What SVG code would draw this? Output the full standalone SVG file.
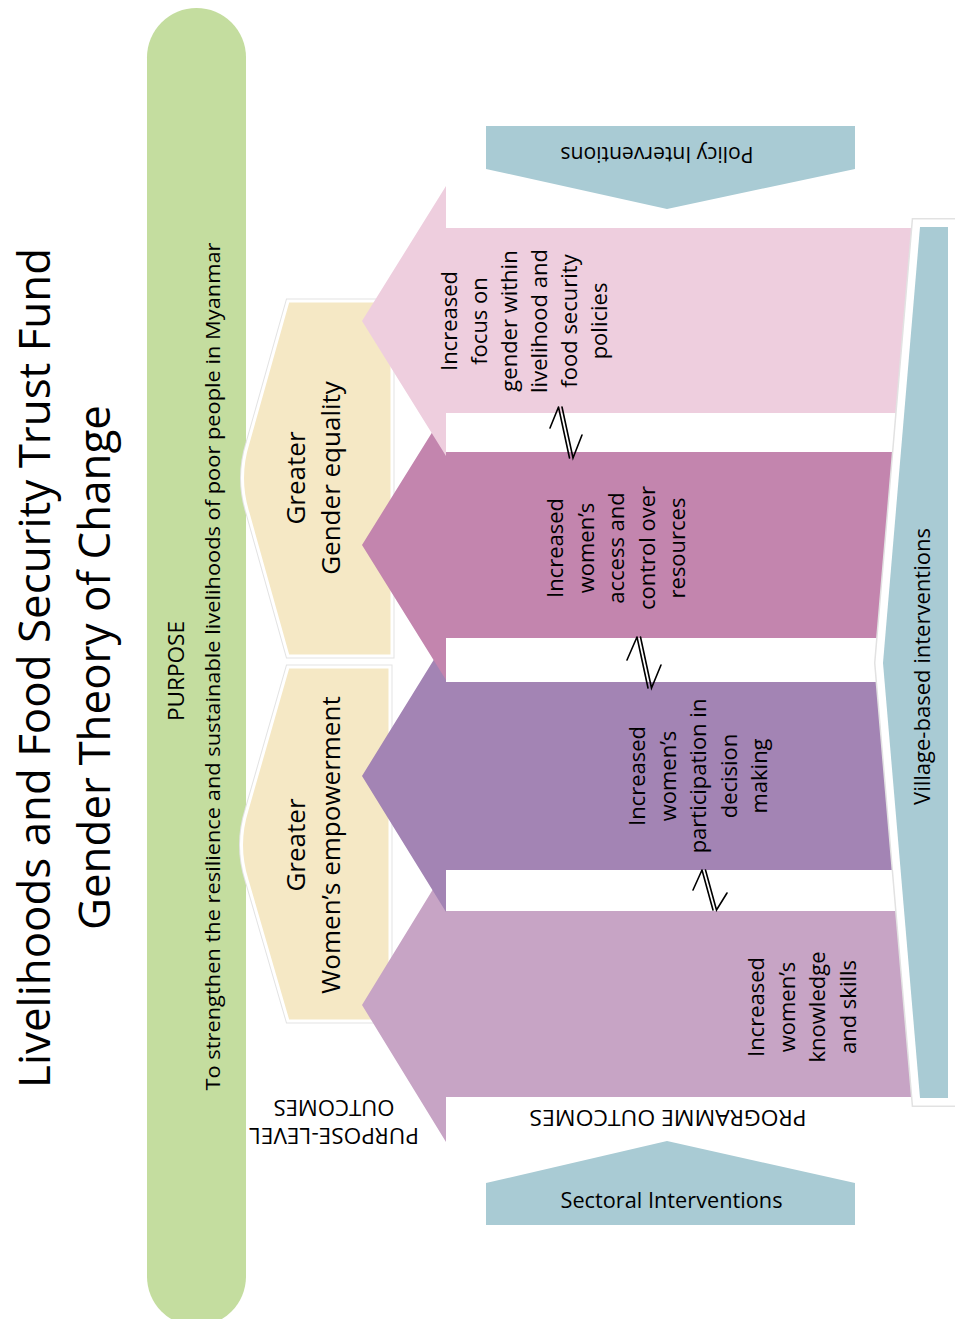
<svg xmlns="http://www.w3.org/2000/svg" xmlns:xlink="http://www.w3.org/1999/xlink" width="955" height="1319" viewBox="0 0 955 1319">
<style>
.t{font-family:"Open Sans","Liberation Sans",sans-serif;fill:#000}
.f22{font-size:22px}
.f26{font-size:26px}
.chev{fill:#f5e8c5;stroke:#fff;stroke-width:3}
.chevsh{fill:none;stroke:#e3e3e3;stroke-width:5}
.blue{fill:#a9cbd4}
.conn{fill:none;stroke:#000;stroke-width:1.6;stroke-linecap:round;stroke-linejoin:miter}
</style>
<defs>
<path id="chev1" d="M288,301 L392,301 L392,656 L288,656 L248,513 Q237,478 248,443 Z"/>
<path id="chev2" d="M288,667 L390,667 L390,1021 L288,1021 L247,880 Q236,845 247,810 Z"/>
<polygon id="village" points="920,227 948,227 948,1098 920,1098 883,663"/>
</defs>
<rect width="955" height="1319" fill="#fff"/>

<g id="title">
<text class="t" font-size="44" text-anchor="middle" transform="translate(50,668) rotate(-90)" textLength="840" lengthAdjust="spacingAndGlyphs">Livelihoods and Food Security Trust Fund</text>
<text class="t" font-size="44" text-anchor="middle" transform="translate(110,667.5) rotate(-90)" textLength="525" lengthAdjust="spacingAndGlyphs">Gender Theory of Change</text>
</g>

<g id="purpose">
<rect x="147" y="8" width="99" height="1318" rx="49.5" ry="49.5" fill="#c4dd9f"/>
<text class="t f22" text-anchor="middle" transform="translate(184,671) rotate(-90)" textLength="100" lengthAdjust="spacingAndGlyphs">PURPOSE</text>
<text class="t" font-size="20" text-anchor="middle" transform="translate(220,666.5) rotate(-90)" textLength="848" lengthAdjust="spacingAndGlyphs">To strengthen the resilience and sustainable livelihoods of poor people in Myanmar</text>
</g>

<g id="gender-equality">
<use xlink:href="#chev1" class="chevsh"/>
<use xlink:href="#chev1" class="chev"/>
<text class="t f26" text-anchor="middle" transform="translate(305,478) rotate(-90)"><tspan x="0" y="0">Greater</tspan><tspan x="0" y="35">Gender equality</tspan></text>
</g>

<g id="womens-empowerment">
<use xlink:href="#chev2" class="chevsh"/>
<use xlink:href="#chev2" class="chev"/>
<text class="t f26" text-anchor="middle" transform="translate(305,845) rotate(-90)"><tspan x="0" y="0">Greater</tspan><tspan x="0" y="35">Women’s empowerment</tspan></text>
</g>

<g id="outcome-knowledge">
<polygon points="362,1005 446,868 446,911 897,911 912,1097 446,1097 446,1142" fill="#c7a4c5"/>
<text class="t f22" text-anchor="middle" transform="translate(764,1007) rotate(-90)"><tspan x="0" y="0">Increased</tspan><tspan x="0" y="30.5">women’s</tspan><tspan x="0" y="61">knowledge</tspan><tspan x="0" y="91.5">and skills</tspan></text>
</g>

<g id="outcome-decision">
<polygon points="362,776 446,640 446,682 878,682 894,870 446,870 446,912" fill="#a384b4"/>
<text class="t f22" text-anchor="middle" transform="translate(645,776) rotate(-90)"><tspan x="0" y="0">Increased</tspan><tspan x="0" y="30.5">women’s</tspan><tspan x="0" y="61">participation in</tspan><tspan x="0" y="91.5">decision</tspan><tspan x="0" y="122">making</tspan></text>
</g>

<g id="outcome-resources">
<polygon points="362,545 446,410 446,452 894,452 878,638 446,638 446,680" fill="#c385ae"/>
<text class="t f22" text-anchor="middle" transform="translate(563,548) rotate(-90)"><tspan x="0" y="0">Increased</tspan><tspan x="0" y="30.5">women’s</tspan><tspan x="0" y="61">access and</tspan><tspan x="0" y="91.5">control over</tspan><tspan x="0" y="122">resources</tspan></text>
</g>

<g id="outcome-policies">
<polygon points="362,321 446,186 446,228 913,228 897,413 446,413 446,456" fill="#eecede"/>
<text class="t f22" text-anchor="middle" transform="translate(457,321) rotate(-90)"><tspan x="0" y="0">Increased</tspan><tspan x="0" y="30">focus on</tspan><tspan x="0" y="60">gender within</tspan><tspan x="0" y="90">livelihood and</tspan><tspan x="0" y="120">food security</tspan><tspan x="0" y="150">policies</tspan></text>
</g>

<g id="village-interventions">
<use xlink:href="#village" fill="none" stroke="#e2e2e2" stroke-width="18"/>
<use xlink:href="#village" fill="none" stroke="#fff" stroke-width="15"/>
<use xlink:href="#village" class="blue"/>
<text class="t f22" text-anchor="middle" transform="translate(930,666.5) rotate(-90)" textLength="277" lengthAdjust="spacingAndGlyphs">Village-based interventions</text>
</g>

<g id="policy-interventions">
<polygon class="blue" points="486,126 855,126 855,169 667,209 486,169"/>
<text class="t f22" text-anchor="middle" transform="translate(657,147) rotate(180)" textLength="193" lengthAdjust="spacingAndGlyphs">Policy Interventions</text>
</g>

<g id="sectoral-interventions">
<polygon class="blue" points="486,1183 667,1141 855,1183 855,1225 486,1225"/>
<text class="t f22" text-anchor="middle" x="671.5" y="1208" textLength="222" lengthAdjust="spacingAndGlyphs">Sectoral Interventions</text>
</g>

<g id="labels">
<text class="t f22" text-anchor="middle" transform="translate(668,1110) rotate(180)" textLength="277" lengthAdjust="spacingAndGlyphs">PROGRAMME OUTCOMES</text>
<text class="t f22" text-anchor="middle" transform="translate(334,1128) rotate(180)"><tspan x="0" y="0" textLength="170" lengthAdjust="spacingAndGlyphs">PURPOSE-LEVEL</tspan><tspan x="0" y="28" textLength="121" lengthAdjust="spacingAndGlyphs">OUTCOMES</tspan></text>
</g>

<g id="connectors" class="conn">
<path d="M558.5,407 L569.5,458 M558.5,407 L550,428 M562,407 L573,458 L582,435"/>
<path d="M637,637 L648,688 M637,637 L627,660 M640.5,637 L651.5,688 L661,665"/>
<path d="M702,870 L713,910 M702,870 L693,890 M705.5,870 L716.5,910 L727,893"/>
</g>
</svg>
